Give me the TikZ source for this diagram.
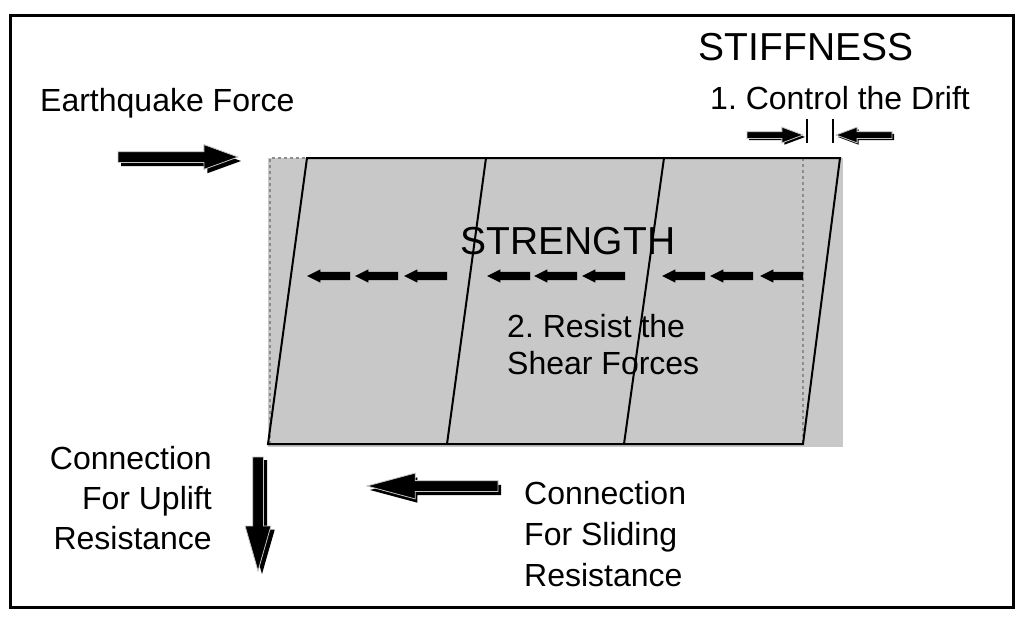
\documentclass[tikz,border=0pt]{standalone}
\usepackage{fontspec}
\setmainfont{Liberation Sans}
\usetikzlibrary{shapes.arrows}
\definecolor{wallgray}{RGB}{200,200,200}
\definecolor{dashgray}{RGB}{140,140,140}
\frenchspacing
\begin{document}
\begin{tikzpicture}[x=1pt,y=-1pt,
  txt/.style={inner sep=0pt, font=\fontsize{32}{40}\selectfont},
  bigtxt/.style={inner sep=0pt, font=\fontsize{39}{45}\selectfont},
  fat/.style={single arrow, outer sep=0pt, fill=black, draw=gray!45, line width=0.8pt, anchor=tail},
  shade/.style={single arrow, outer sep=0pt, fill=black, draw=none, anchor=tail},
  smallarrow/.style={single arrow, inner sep=4pt, outer sep=0pt, fill=black, anchor=tail,
    single arrow head extend=2.5pt, single arrow tip angle=53, minimum height=43pt, shape border rotate=180},
  eq/.style={inner sep=5pt, minimum height=120pt, single arrow head extend=7pt, single arrow tip angle=40},
  drift/.style={inner sep=3pt, minimum height=56pt, single arrow head extend=4.5pt, single arrow tip angle=41},
  upl/.style={inner sep=5pt, minimum height=114pt, single arrow head extend=7.5pt, single arrow tip angle=32, shape border rotate=270},
  sld/.style={inner sep=5pt, minimum height=131pt, single arrow head extend=7.5pt, single arrow tip angle=30, shape border rotate=180},
  wallline/.style={line width=2pt, black},
  frame/.style={line width=3pt, black}]
\useasboundingbox (0,0) rectangle (1024,621);
\draw[frame] (10,15) rectangle (1013,607);
% wall
\fill[wallgray] (268,158) rectangle (843,447);
\draw[dashgray, dashed, line width=1.2pt] (270,444) -- (270,158) -- (307,158);
\draw[dashgray, dashed, line width=1.2pt] (803,158) -- (803,444);
\draw[wallline] (268,444) -- (307,158) -- (840,158) -- (803,444) -- cycle;
\draw[wallline] (486,158) -- (447,444);
\draw[wallline] (664,158) -- (624,444);
% texts
\node[bigtxt, anchor=base] (stiff) at (806,60) {STIFFNESS};
\node[txt, anchor=base west] (drift) at (710,109) {1. Control the Drift};
\node[txt, anchor=base west] (eqf) at (40,111) {Earthquake Force};
\node[bigtxt, anchor=base] (strength) at (568,254) {STRENGTH};
\node[txt, anchor=base west] (sh1) at (507,337) {2. Resist the};
\node[txt, anchor=base west] (sh2) at (507,374) {Shear Forces};
\node[txt, anchor=base east] (up1) at (212,469) {Connection};
\node[txt, anchor=base east] (up2) at (212,509) {For Uplift};
\node[txt, anchor=base east] (up3) at (212,549) {Resistance};
\node[txt, anchor=base west] (sl1) at (524,504) {Connection};
\node[txt, anchor=base west] (sl2) at (524,545) {For Sliding};
\node[txt, anchor=base west] (sl3) at (524,586) {Resistance};
% shear arrows
\foreach \i/\x in {1/350,2/398,3/447,4/530,5/577,6/625,7/705,8/753,9/803}
  \node[smallarrow] (m\i) at (\x,276) {};
% earthquake arrow
\node[shade, eq] (eqs) at (121,161) {};
\node[fat, eq] (eqa) at (118,157) {};
% drift arrows
\node[shade, drift] (d1s) at (749,137) {};
\node[fat, drift] (d1) at (747,135) {};
\node[shade, drift, shape border rotate=180] (d2s) at (894,137) {};
\node[fat, drift, shape border rotate=180] (d2) at (892,135) {};
\coordinate (t1a) at (807,119); \coordinate (t1b) at (807,143);
\coordinate (t2a) at (833,119); \coordinate (t2b) at (833,143);
\draw[line width=1.6pt] (t1a) -- (t1b);
\draw[line width=1.6pt] (t2a) -- (t2b);
% uplift arrow
\node[shade, upl] (ups) at (262,460) {};
\node[fat, upl] (upa) at (258,457) {};
% sliding arrow
\node[shade, sld] (sls) at (501,490) {};
\node[fat, sld] (sla) at (498,486) {};
\end{tikzpicture}
\end{document}
